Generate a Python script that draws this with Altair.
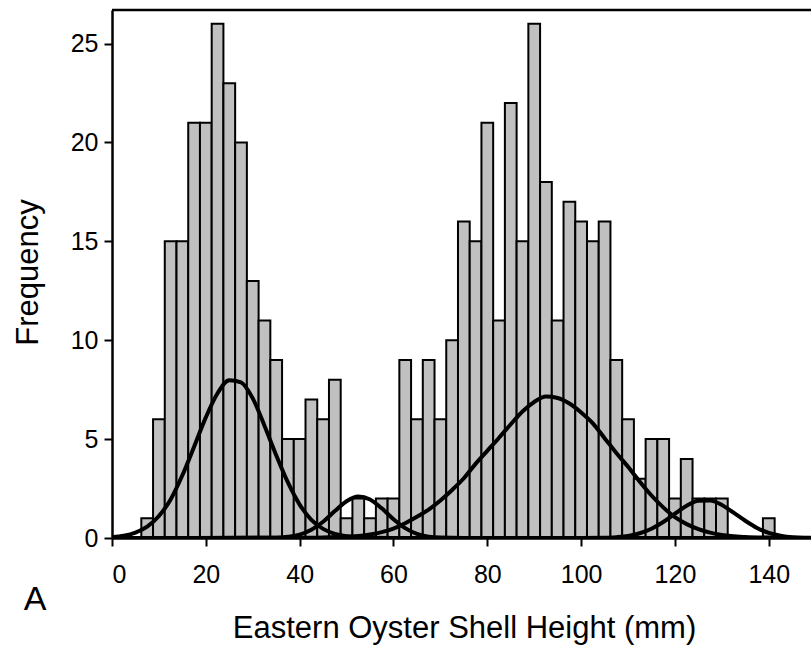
import altair as alt
import pandas as pd

# Histogram bins (centre of each 2.5 mm bin) and counts
bin_centers = [7.5, 10, 12.5, 15, 17.5, 20, 22.5, 25, 27.5, 30, 32.5, 35, 37.5, 40,
               42.5, 45, 47.5, 50, 52.5, 55, 57.5, 60, 62.5, 65, 67.5, 70, 72.5, 75,
               77.5, 80, 82.5, 85, 87.5, 90, 92.5, 95, 97.5, 100, 102.5, 105, 107.5,
               110, 112.5, 115, 117.5, 120, 122.5, 125, 127.5, 130, 132.5, 135, 137.5, 140]
counts = [1, 6, 15, 15, 21, 21, 26, 23, 20, 13, 11, 9, 5, 5,
          7, 6, 8, 1, 2, 1, 2, 2, 9, 6, 9, 6, 10, 16,
          15, 21, 11, 22, 15, 26, 18, 11, 17, 16, 15, 16, 9,
          6, 3, 5, 5, 2, 4, 2, 2, 2, 0, 0, 0, 1]
BIN_W = 2.5

# Fitted component curves
c1_x = [0, 2.5, 5, 7.5, 10, 12.5, 15, 17.5, 20, 22.5, 25, 27.5, 30, 32.5, 35, 37.5,
        40, 42.5, 45, 47.5, 50, 52.5, 55, 60, 149]
c1_y = [0.04, 0.11, 0.27, 0.57, 1.11, 1.95, 3.17, 4.62, 6.1, 7.32, 7.98, 7.87, 7.06,
        5.68, 4.19, 2.81, 1.69, 0.92, 0.46, 0.21, 0.09, 0.03, 0.01, 0, 0]

c2_x = [0, 35, 37.5, 40, 42.5, 45, 47.5, 50, 52.5, 55, 57.5, 60, 62.5, 65, 67.5, 70, 75, 149]
c2_y = [0, 0.01, 0.06, 0.17, 0.42, 0.82, 1.36, 1.86, 2.1, 1.95, 1.5, 0.95, 0.5, 0.21,
        0.07, 0.02, 0, 0]

c3_x = [0, 40, 45, 50, 52.5, 55, 57.5, 60, 62.5, 65, 67.5, 70, 72.5, 75, 77.5, 80, 82.5,
        85, 87.5, 90, 92.5, 95, 97.5, 100, 102.5, 105, 107.5, 110, 112.5, 115, 117.5,
        120, 122.5, 125, 127.5, 130, 135, 140, 149]
c3_y = [0, 0.01, 0.03, 0.07, 0.1, 0.18, 0.3, 0.48, 0.75, 1.07, 1.44, 1.9, 2.43, 3.02,
        3.75, 4.41, 5.07, 5.75, 6.4, 6.88, 7.15, 7.08, 6.8, 6.35, 5.8, 5.05, 4.3, 3.6,
        2.85, 2.15, 1.55, 1.05, 0.7, 0.45, 0.27, 0.15, 0.05, 0.02, 0]

c4_x = [0, 100, 105, 107.5, 110, 112.5, 115, 117.5, 120, 122.5, 125, 127.5, 130, 132.5,
        135, 137.5, 140, 142.5, 145, 147.5, 149]
c4_y = [0, 0, 0.01, 0.04, 0.1, 0.24, 0.47, 0.81, 1.23, 1.63, 1.88, 1.9, 1.67, 1.28,
        0.87, 0.51, 0.26, 0.12, 0.04, 0.015, 0.01]

x_ticks = [0, 20, 40, 60, 80, 100, 120, 140]
y_ticks = [0, 5, 10, 15, 20, 25]

bars_df = pd.DataFrame({"center": bin_centers, "count": counts})
bars_df = bars_df[bars_df["count"] > 0].copy()
bars_df["lo"] = bars_df["center"] - BIN_W / 2
bars_df["hi"] = bars_df["center"] + BIN_W / 2

rows = []
for name, xs, ys in [("c1", c1_x, c1_y), ("c2", c2_x, c2_y), ("c3", c3_x, c3_y), ("c4", c4_x, c4_y)]:
    for xv, yv in zip(xs, ys):
        rows.append({"comp": name, "x": xv, "y": yv})
curves_df = pd.DataFrame(rows)

W, H = 699, 528
FONT = "Liberation Sans"

x_scale = alt.Scale(domain=[0, 149], nice=False, zero=False)
y_scale = alt.Scale(domain=[0, 26.7], nice=False)

bars = alt.Chart(bars_df).mark_bar(
    fill="#c0c0c0", stroke="black", strokeWidth=2
).encode(
    x=alt.X("lo:Q", scale=x_scale,
            axis=alt.Axis(values=x_ticks, title="Eastern Oyster Shell Height (mm)",
                          labelPadding=16, titleX=352, titleY=90,
                          titleBaseline="middle", titleAlign="center")),
    x2="hi:Q",
    y=alt.Y("count:Q", scale=y_scale,
            axis=alt.Axis(values=y_ticks, title="Frequency", labelPadding=6,
                          titleX=-84, titleY=262, titleBaseline="middle",
                          titleAlign="center", titleAngle=270)),
    y2=alt.datum(0),
)

lines = alt.Chart(curves_df).mark_line(
    color="black", strokeWidth=4, interpolate="monotone", clip=True
).encode(
    x=alt.X("x:Q", scale=x_scale),
    y=alt.Y("y:Q", scale=y_scale),
    detail="comp:N",
)

one = pd.DataFrame({"t": ["A"]})
top_border = alt.Chart(one).mark_rule(color="black", strokeWidth=2.5).encode(
    x=alt.value(0), x2=alt.value(W), y=alt.value(0)
)

panel_label = alt.Chart(one).mark_text(
    font=FONT, fontSize=34, color="black", align="center", baseline="middle"
).encode(text="t:N", x=alt.value(-77), y=alt.value(590))

chart = alt.layer(bars, lines, top_border, panel_label).properties(
    width=W, height=H,
    padding={"left": 112, "top": 10, "right": 0, "bottom": 113},
    autosize=alt.AutoSizeParams(type="none"),
).configure_view(stroke=None).configure_axis(
    grid=False,
    domainColor="black", domainWidth=2.5,
    tickColor="black", tickWidth=2, tickSize=8,
    labelFont=FONT, labelFontSize=25, labelColor="black",
    titleFont=FONT, titleFontSize=31, titleFontWeight="normal", titleColor="black",
)

chart.save("out.html", embed_options={"renderer": "svg", "actions": False})
